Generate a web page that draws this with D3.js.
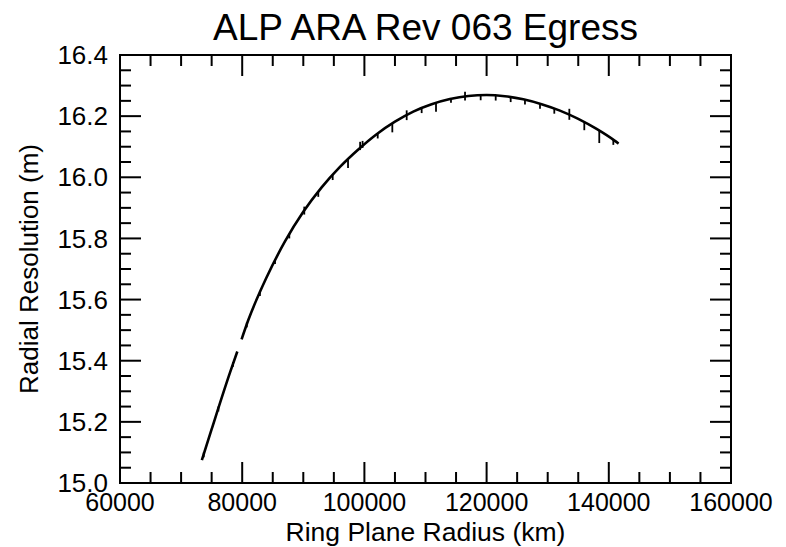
<!DOCTYPE html>
<html>
<head>
<meta charset="utf-8">
<script src="https://cdn.jsdelivr.net/npm/d3@7"></script>
<style>
  html, body { margin: 0; padding: 0; background: #fff; }
  svg { display: block; font-family: "Liberation Sans", Arial, Helvetica, sans-serif; }
</style>
</head>
<body>
<svg id="chart" width="786" height="547"></svg>
<script>
// Radial resolution along the egress ring-plane track
const titleText = "ALP ARA Rev 063 Egress";
const xLabel = "Ring Plane Radius (km)";
const yLabel = "Radial Resolution (m)";

// Trace samples (km, m); a null entry marks the short break in the trace
const radiusKm = [73400, 75000, 78000, 79200, null, 79900, 81000, 84000, 87000, 90000,
  93000, 96000, 99000, 102000, 105000, 108000, 111000, 114000, 117000, 120000,
  123000, 126000, 129000, 132000, 135000, 138000, 141000, 141600];
const resolutionM = [15.075, 15.176, 15.361, 15.430, null, 15.470, 15.533, 15.673, 15.790, 15.887,
  15.967, 16.034, 16.091, 16.141, 16.182, 16.215, 16.239, 16.256, 16.266, 16.269,
  16.265, 16.255, 16.239, 16.218, 16.191, 16.158, 16.119, 16.110];

// Short vertical spread marks: radius (km), lower and upper ends (m)
const markRadiusKm = [73700, 76100, 78500, 80750, 82900, 85370, 87710, 90160, 92450, 94810,
  97320, 99300, 99700, 102180, 104570, 106920, 109370, 111720, 114170, 116470,
  119030, 121490, 123940, 126280, 128740, 131080, 133540, 135990, 138440, 140740];
const markLowM = [15.084, 15.234, 15.380, 15.509, 15.612, 15.716, 15.800, 15.878, 15.936, 15.991,
  16.030, 16.089, 16.096, 16.127, 16.147, 16.187, 16.210, 16.214, 16.244, 16.251,
  16.252, 16.251, 16.246, 16.238, 16.224, 16.208, 16.188, 16.154, 16.112, 16.106];
const markHighM = [15.100, 15.250, 15.396, 15.525, 15.628, 15.732, 15.816, 15.904, 15.952, 16.007,
  16.059, 16.116, 16.119, 16.143, 16.176, 16.219, 16.226, 16.243, 16.257, 16.280,
  16.268, 16.267, 16.262, 16.254, 16.240, 16.224, 16.224, 16.180, 16.152, 16.122];

// Axis ranges and ticks
const xDomain = [60000, 160000];
const yDomain = [15.0, 16.4];
const xMajorTicks = [60000, 80000, 100000, 120000, 140000, 160000];
const yMajorTicks = [15.0, 15.2, 15.4, 15.6, 15.8, 16.0, 16.2, 16.4];
const xMinorStep = 5000;
const yMinorStep = 0.05;

const svg = d3.select("#chart");
const plot = { left: 120, right: 731, top: 55, bottom: 483 };

const x = d3.scaleLinear().domain(xDomain).range([plot.left, plot.right]);
const y = d3.scaleLinear().domain(yDomain).range([plot.bottom, plot.top]);

const trace = radiusKm.map((r, i) => ({ r, v: resolutionM[i] }));
const marks = markRadiusKm.map((r, i) => ({ r, lo: markLowM[i], hi: markHighM[i] }));

const majorLen = 21, minorLen = 11;
const xMinor = d3.range(xDomain[0], xDomain[1] + 1, xMinorStep);
const yMinor = d3.range(0, Math.round((yDomain[1] - yDomain[0]) / yMinorStep) + 1)
  .map(k => +(yDomain[0] + k * yMinorStep).toFixed(3));
const isMajorX = t => xMajorTicks.some(m => Math.abs(m - t) < 1e-6);
const isMajorY = t => yMajorTicks.some(m => Math.abs(m - t) < 1e-6);

// Inward ticks on all four sides
const tickG = svg.append("g").attr("stroke", "#000").attr("stroke-width", 2);
xMinor.forEach(t => {
  const len = isMajorX(t) ? majorLen : minorLen;
  tickG.append("line").attr("x1", x(t)).attr("x2", x(t)).attr("y1", plot.bottom).attr("y2", plot.bottom - len);
  tickG.append("line").attr("x1", x(t)).attr("x2", x(t)).attr("y1", plot.top).attr("y2", plot.top + len);
});
yMinor.forEach(t => {
  const len = isMajorY(t) ? majorLen : minorLen;
  tickG.append("line").attr("x1", plot.left).attr("x2", plot.left + len).attr("y1", y(t)).attr("y2", y(t));
  tickG.append("line").attr("x1", plot.right).attr("x2", plot.right - len).attr("y1", y(t)).attr("y2", y(t));
});

// Frame
svg.append("rect")
  .attr("x", plot.left).attr("y", plot.top)
  .attr("width", plot.right - plot.left).attr("height", plot.bottom - plot.top)
  .attr("fill", "none").attr("stroke", "#000").attr("stroke-width", 2);

// Tick labels
svg.append("g").selectAll("text").data(xMajorTicks).join("text")
  .attr("x", d => x(d)).attr("y", 511)
  .attr("text-anchor", "middle").attr("font-size", 25).attr("fill", "#000")
  .text(d => d3.format("d")(d));
svg.append("g").selectAll("text").data(yMajorTicks).join("text")
  .attr("x", 108).attr("y", d => y(d)).attr("dy", "0.35em")
  .attr("text-anchor", "end").attr("font-size", 26).attr("fill", "#000")
  .text(d => d3.format(".1f")(d));

// Titles
svg.append("text").attr("x", (plot.left + plot.right) / 2).attr("y", 40)
  .attr("text-anchor", "middle").attr("font-size", 37).attr("fill", "#000").text(titleText);
svg.append("text").attr("x", (plot.left + plot.right) / 2).attr("y", 540.5)
  .attr("text-anchor", "middle").attr("font-size", 26.5).attr("fill", "#000").text(xLabel);
svg.append("text")
  .attr("transform", `translate(38,${(plot.top + plot.bottom) / 2}) rotate(-90)`)
  .attr("text-anchor", "middle").attr("font-size", 26).attr("fill", "#000").text(yLabel);

// Trace
const line = d3.line()
  .defined(d => d.v != null)
  .x(d => x(d.r)).y(d => y(d.v))
  .curve(d3.curveMonotoneX);
svg.append("path").datum(trace)
  .attr("d", line)
  .attr("fill", "none").attr("stroke", "#000").attr("stroke-width", 2.6)
  .attr("stroke-linejoin", "round");

// Spread marks along the trace
svg.append("g").attr("stroke", "#000").attr("stroke-width", 1.8)
  .selectAll("line")
  .data(marks)
  .join("line")
  .attr("x1", d => x(d.r)).attr("x2", d => x(d.r))
  .attr("y1", d => y(d.lo)).attr("y2", d => y(d.hi));
</script>
</body>
</html>
